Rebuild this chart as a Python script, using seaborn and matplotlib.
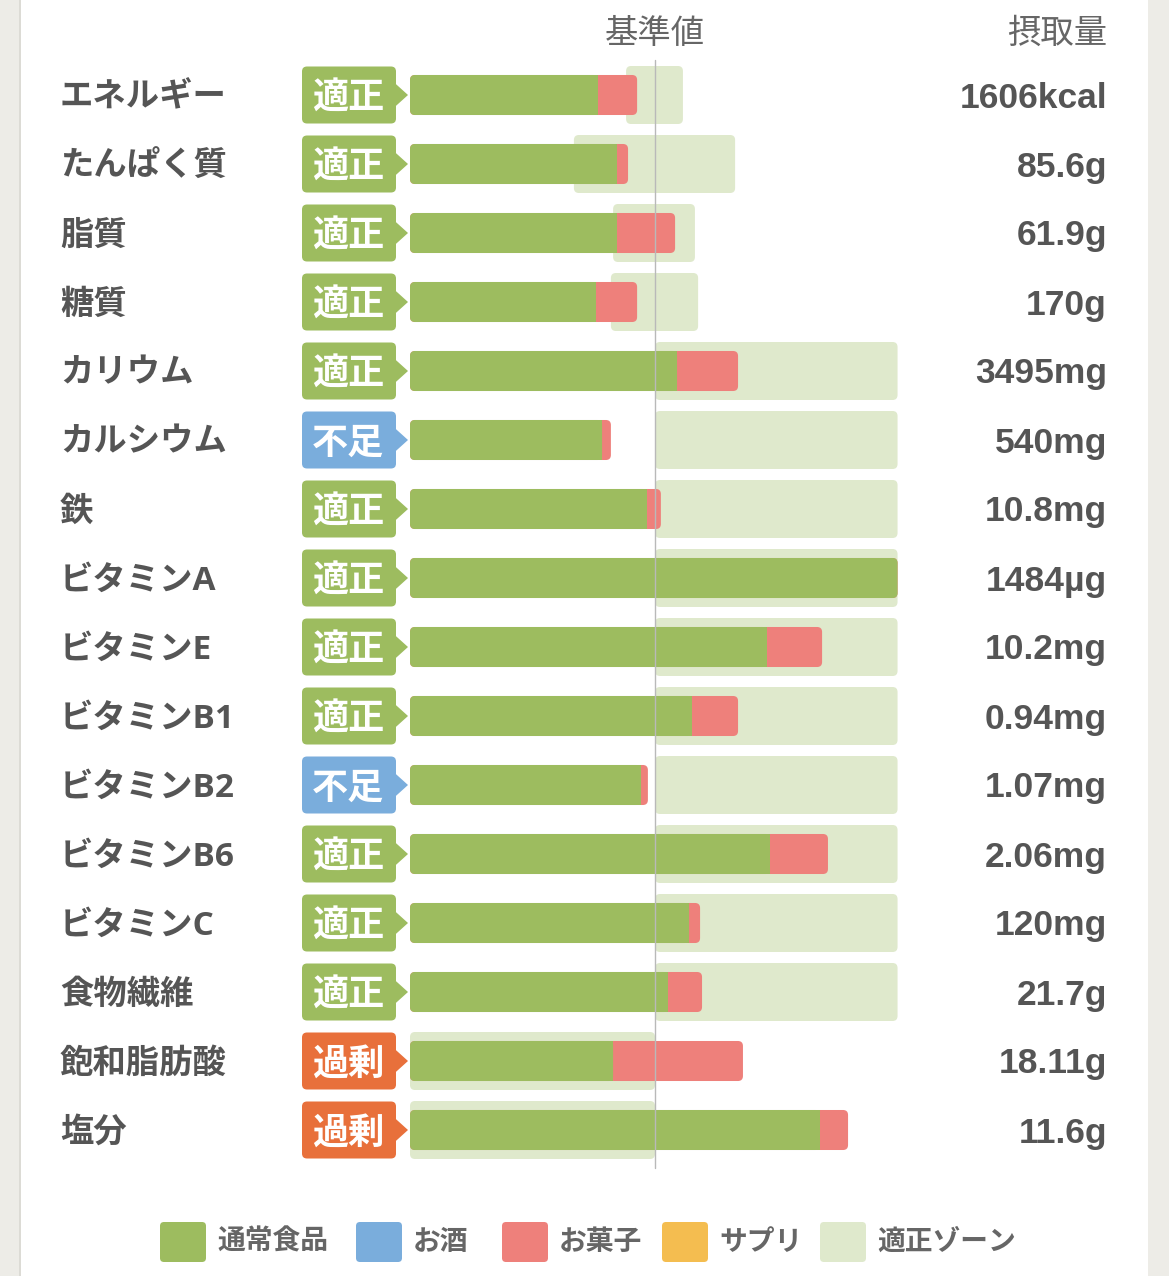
"""
Nutrient intake vs. reference chart (stacked horizontal bars)
"""

import matplotlib.pyplot as plt
import numpy as np
import pandas as pd
import seaborn as sns
from matplotlib.patches import FancyBboxPatch, Polygon, Rectangle

# ---- data (percent of the reference value) ----
nutrients = ["エネルギー", "たんぱく質", "脂質", "糖質", "カリウム", "カルシウム", "鉄",
             "ビタミンA", "ビタミンE", "ビタミンB1", "ビタミンB2", "ビタミンB6",
             "ビタミンC", "食物繊維", "飽和脂肪酸", "塩分"]
status = ["適正", "適正", "適正", "適正", "適正", "不足", "適正", "適正",
          "適正", "適正", "不足", "適正", "適正", "適正", "過剰", "過剰"]
food = [76.7, 84.5, 84.5, 75.9, 109.0, 78.4, 96.7, 199.0,
        145.7, 115.1, 94.3, 146.9, 113.9, 105.3, 82.9, 167.3]
sweets = [16.0, 4.5, 23.7, 16.8, 24.9, 3.6, 5.7, 0.0,
          22.5, 18.8, 2.8, 23.7, 4.5, 13.9, 53.0, 11.5]
zone_lo = [88.2, 66.9, 82.9, 82.0, 100, 100, 100, 100,
           100, 100, 100, 100, 100, 100, 0, 0]
zone_hi = [111.4, 132.7, 116.3, 117.6, 199, 199, 199, 199,
           199, 199, 199, 199, 199, 199, 100, 100]
amounts = ["1606kcal", "85.6g", "61.9g", "170g", "3495mg", "540mg", "10.8mg", "1484µg",
           "10.2mg", "0.94mg", "1.07mg", "2.06mg", "120mg", "21.7g", "18.11g", "11.6g"]
legend_labels = ["通常食品", "お酒", "お菓子", "サプリ", "適正ゾーン"]

# ---- style ----
GREEN = "#9dbc5f"
BLUE = "#7aaddc"
PINK = "#ee807b"
ORANGE = "#f4bd50"
ZONE = "#dfe9cc"
TEXT = "#555555"
BADGE = {"適正": GREEN, "不足": BLUE, "過剰": "#e8703b"}
LATIN_JP = ["Open Sans", "Noto Sans CJK JP", "DejaVu Sans"]
NUM_FONT = ["Liberation Sans", "Noto Sans CJK JP", "DejaVu Sans"]

W, H = 1169, 1276
X0, PX_PER_UNIT = 410, 2.45      # bar origin and scale in pixels
Y0, PX_PER_ROW = 95, 69

sns.set_theme(style="white")
plt.rcParams["font.family"] = ["Noto Sans CJK JP", "DejaVu Sans"]


def xd(px):
    return (px - X0) / PX_PER_UNIT


def yd(py):
    return (py - Y0) / PX_PER_ROW


ASPECT = (1 / PX_PER_ROW) / (1 / PX_PER_UNIT)
NUDGE = 3 / PX_PER_ROW


def rounded(ax, x, y, w, h, color, z, r=5):
    box = FancyBboxPatch((x, y), w, h, boxstyle=f"round,pad=0,rounding_size={r / PX_PER_UNIT}",
                         mutation_aspect=ASPECT, facecolor=color, edgecolor="none", zorder=z)
    ax.add_patch(box)
    return box


fig = plt.figure(figsize=(W / 100, H / 100), dpi=100, facecolor="#edece7")
fig.patches.append(Rectangle((21 / W, 0), (1148 - 21) / W, 1, transform=fig.transFigure,
                             facecolor="white", edgecolor="none", zorder=-10))
fig.patches.append(Rectangle((19 / W, 0), 2 / W, 1, transform=fig.transFigure,
                             facecolor="#dcdbd5", edgecolor="none", zorder=-10))
ax = fig.add_axes([0, 0, 1, 1])
ax.patch.set_alpha(0)

df = pd.DataFrame({"nutrient": nutrients, "food": food,
                   "total": np.array(food) + np.array(sweets)})

sns.barplot(data=df, x="total", y="nutrient", orient="h", color=PINK, saturation=1,
            width=0.58, errorbar=None, ax=ax)
sns.barplot(data=df, x="food", y="nutrient", orient="h", color=GREEN, saturation=1,
            width=0.58, errorbar=None, ax=ax)

# swap seaborn's square bars for rounded ones
bars = list(ax.patches)
n = len(nutrients)
for k, p in enumerate(bars):
    x, y, w, h = p.get_x(), p.get_y(), p.get_width(), p.get_height()
    color = p.get_facecolor()
    p.remove()
    if k < n:
        rounded(ax, x, y, w, h, color, 3)
    else:
        rounded(ax, x, y, w, h, color, 4)
        if sweets[k - n] > 0:
            ax.add_patch(Rectangle((x + w / 2, y), w / 2, h, facecolor=color,
                                   edgecolor="none", zorder=4))

# appropriate zones, badges, labels
zone_h = 58 / PX_PER_ROW
badge_h = 57 / PX_PER_ROW
for i in range(n):
    rounded(ax, zone_lo[i], i - zone_h / 2, zone_hi[i] - zone_lo[i], zone_h, ZONE, 1)

    c = BADGE[status[i]]
    rounded(ax, xd(302), i - badge_h / 2, xd(396) - xd(302), badge_h, c, 2)
    ax.add_patch(Polygon([(xd(395), i - 0.17), (xd(408), i), (xd(395), i + 0.17)],
                         closed=True, facecolor=c, edgecolor="none", zorder=2))
    ax.text(xd(348), i + NUDGE, status[i], ha="center", va="center", color="white",
            fontsize=26, fontweight="bold", zorder=5)

    ax.text(xd(60), i + NUDGE, nutrients[i], ha="left", va="center", color=TEXT,
            fontsize=24, fontweight="bold", family=LATIN_JP)
    ax.text(xd(1107), i + NUDGE, amounts[i], ha="right", va="center", color=TEXT,
            fontsize=25.5, fontweight="bold", family=NUM_FONT)

# reference line and headers
ax.plot([100, 100], [yd(60), yd(1168)], color="#b9b9b9", lw=1, zorder=6)
ax.text(100, yd(33), "基準値", ha="center", va="center", color="#666666", fontsize=24)
ax.text(xd(1107), yd(33), "摂取量", ha="right", va="center", color="#666666", fontsize=24)

# legend
legend_colors = [GREEN, BLUE, PINK, ORANGE, ZONE]
legend_x = [160, 356, 502, 662, 820]
ly = yd(1242)
for lx, lc, lt in zip(legend_x, legend_colors, legend_labels):
    rounded(ax, xd(lx), ly - 20 / PX_PER_ROW, 46 / PX_PER_UNIT, 40 / PX_PER_ROW, lc, 2, r=4)
    ax.text(xd(lx + 57), ly, lt, ha="left", va="center", color="#666666",
            fontsize=20, fontweight="bold")

ax.set_xlim(xd(0), xd(W))
ax.set_ylim(yd(H), yd(0))
ax.axis("off")

fig.savefig("out.png", dpi=100, facecolor=fig.get_facecolor())
